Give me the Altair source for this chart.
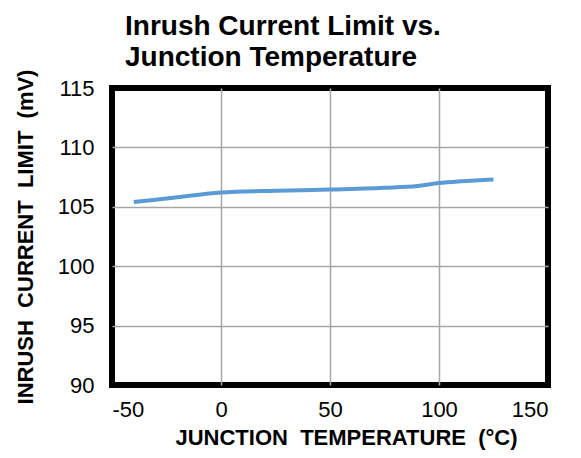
import altair as alt
import pandas as pd

temps = [-40, -20, 0, 25, 50, 75, 90, 100, 110, 125]
limits = [105.4, 105.8, 106.2, 106.35, 106.45, 106.6, 106.75, 107.0, 107.15, 107.3]
x_ticks = [-50, 0, 50, 100, 150]
y_ticks = [90, 95, 100, 105, 110, 115]

df = pd.DataFrame({"temp": temps, "limit": limits})

NB = "\u00a0"
xtitle = f"JUNCTION{NB} TEMPERATURE{NB} (°C)"
ytitle = f"INRUSH{NB} CURRENT{NB} LIMIT{NB} (mV)"

chart = alt.Chart(df).mark_line(color="#5B9BD5", strokeWidth=4, interpolate="monotone").encode(
    x=alt.X("temp:Q", scale=alt.Scale(domain=[-50, 150], nice=False),
            axis=alt.Axis(values=x_ticks, title=xtitle, labelExpr="'' + datum.value",
                          gridOpacity={"condition": {"test": "datum.value <= -50 || datum.value >= 150", "value": 0}, "value": 1},
                          titleX=234, titleY=42, titleBaseline="top", titleAlign="center")),
    y=alt.Y("limit:Q", scale=alt.Scale(domain=[90, 115], nice=False, zero=False),
            axis=alt.Axis(values=y_ticks, title=ytitle, labelExpr="'' + datum.value",
                          gridOpacity={"condition": {"test": "datum.value <= 90 || datum.value >= 115", "value": 0}, "value": 1},
                          titleX=-87, titleY=148.5, titleAlign="center", titleBaseline="middle")),
).properties(
    width=436, height=297,
    autosize=alt.AutoSizeParams(type="none"),
    padding={"left": 104, "top": 80, "right": 25, "bottom": 65},
    title=alt.TitleParams(["Inrush Current Limit vs.", "Junction Temperature"],
                          anchor="start", dx=13, dy=9, offset=6, fontSize=28, fontWeight="bold",
                          font="Liberation Sans", color="black", lineHeight=31, frame="group"),
).configure_view(stroke="black", strokeWidth=6).configure_axis(
    domain=False, ticks=False, grid=True, gridColor="#A6A6A6", gridWidth=1.5,
    labelFont="Liberation Sans", labelFontSize=22, labelColor="black",
    titleFont="Liberation Sans", titleFontSize=22, titleFontWeight="bold", titleColor="black",
).configure_axisX(labelPadding=14).configure_axisY(labelPadding=18)

chart.save("out.html", embed_options={"renderer": "svg", "actions": False})
